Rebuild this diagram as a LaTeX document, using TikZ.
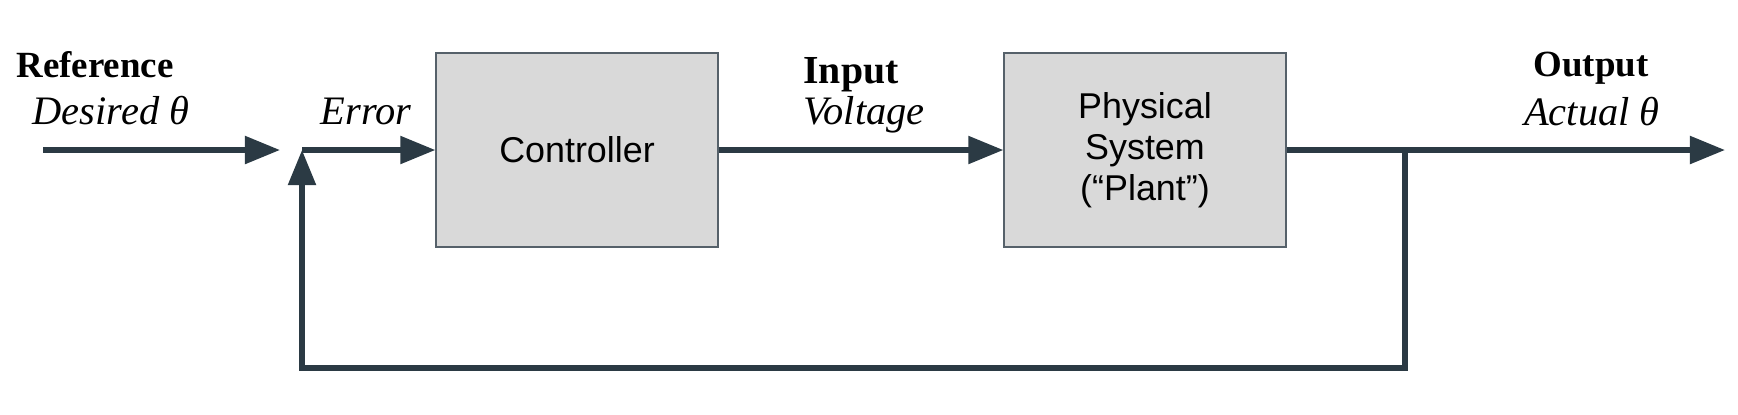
\documentclass[tikz,border=0pt]{standalone}
\usepackage{fontspec}
\setmainfont{Liberation Serif}
\newfontfamily\boxfont{Liberation Sans}
\usetikzlibrary{arrows.meta}
\definecolor{wirecol}{HTML}{2B3A44}
\definecolor{boxfill}{HTML}{D9D9D9}
\definecolor{boxline}{HTML}{56616A}
\begin{document}
\begin{tikzpicture}[x=0.01cm,y=-0.01cm,
    block/.style={draw=boxline,line width=0.6pt,fill=boxfill,minimum width=2.81cm,minimum height=1.94cm,inner sep=0pt,align=center,font=\boxfont\fontsize{10.2}{11.7}\selectfont},
    wire/.style={draw=wirecol,line width=1.5pt,-{Triangle[length=3.5mm,width=2.7mm]}},
    bold/.style={font=\fontsize{10.5}{12}\selectfont\bfseries,anchor=base,inner sep=0pt},
    ital/.style={font=\fontsize{11.5}{13}\selectfont\itshape,anchor=base,inner sep=0pt}]
            \useasboundingbox (0,0) rectangle (1738,414);
            \draw (577,150) node[block](Ctrl) {Controller};
            \draw (1145,150) node[block](Plant) {Physical\\System\\(“Plant”)};
            \coordinate (In) at (43,150);
            \coordinate (Sum) at (280,150);
            \coordinate (Err) at (302,150);
            \coordinate (Tap) at (1405,150);
            \coordinate (Out) at (1725,150);
            \coordinate (Back) at (302,368);
            \draw[wire] (In) -- (Sum);
            \draw[wire] (Err) -- (Ctrl.west);
            \draw[wire] (Ctrl.east) -- (Plant.west);
            \draw[wire] (Plant.east) -- (Out);
            \draw[wire] (Tap) |- (Back) -- (Err);
            % labels
            \draw (95,77) node[bold](RefT) {Reference};
            \draw (111,124) node[ital](RefL) {Desired θ};
            \draw (366,124) node[ital](ErrL) {Error};
            \draw (851,83) node[bold,font=\fontsize{11.3}{13}\selectfont\bfseries](InT) {Input};
            \draw (864,124) node[ital](InL) {Voltage};
            \draw (1591,76) node[bold](OutT) {Output};
            \draw (1592,125) node[ital](OutL) {Actual θ};
        \end{tikzpicture}
\end{document}
